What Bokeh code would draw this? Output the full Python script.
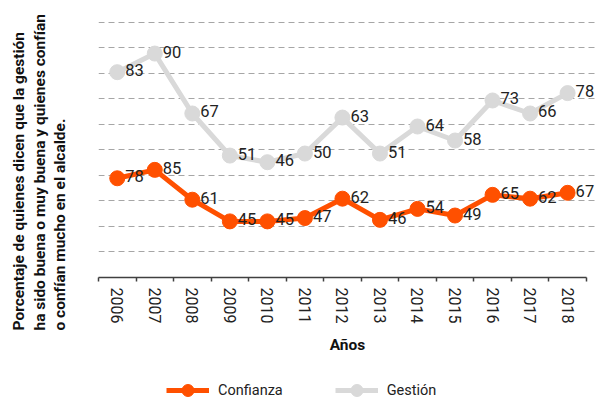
from bokeh.plotting import figure
from bokeh.models import (FixedTicker, LinearAxis, Legend, LegendItem, Title, Range1d)
from bokeh.layouts import column
from bokeh.core.properties import value
from bokeh.embed import file_html
from bokeh.resources import INLINE

FONT = "Roboto"

years = ["2006", "2007", "2008", "2009", "2010", "2011", "2012",
         "2013", "2014", "2015", "2016", "2017", "2018"]
# plotted positions and printed labels
gestion_values = [80.5, 87.8, 64.3, 47.8, 45.2, 48.6, 62.7, 48.6, 59.2, 53.7, 69.4, 64.3, 72.3]
gestion_labels = [83, 90, 67, 51, 46, 50, 63, 51, 64, 58, 73, 66, 78]
confianza_values = [38.9, 42.2, 30.5, 22.0, 22.0, 23.3, 30.9, 22.6, 26.9, 24.3, 32.4, 30.9, 33.2]
confianza_labels = [78, 85, 61, 45, 45, 47, 62, 46, 54, 49, 65, 62, 67]
grid_values = [10, 20, 30, 40, 50, 60, 70, 80, 90, 100]
series_names = ["Confianza", "Gestión"]
y_title_lines = ["Porcentaje de quienes dicen que la gestión",
                 "ha sido buena o muy buena y quienes confían",
                 "o confían mucho en el alcalde."]

ORANGE = "#ff5000"
GRAY = "#d9d9d9"

xs = [i + 0.5 for i in range(len(years))]
n = len(years)

p = figure(width=596, height=360, output_backend="svg", toolbar_location=None,
           x_range=Range1d(0, 13.27), y_range=Range1d(0, 108.6),
           x_axis_location=None, y_axis_location=None,
           min_border_left=98, min_border_right=0, min_border_top=0,
           min_border_bottom=83)
p.title.visible = False
p.outline_line_color = None
p.background_fill_color = None
p.border_fill_color = "white"

# grid
p.xgrid.visible = False
p.ygrid.ticker = FixedTicker(ticks=grid_values)
p.ygrid.grid_line_color = "#a6a6a6"
p.ygrid.grid_line_dash = "6 4"
p.ygrid.grid_line_width = 1
p.ygrid.bounds = (0, n)

# x axis
xaxis = LinearAxis(ticker=FixedTicker(ticks=xs, minor_ticks=list(range(n + 1))),
                   major_label_overrides={x: y for x, y in zip(xs, years)})
xaxis.bounds = (0, n)
xaxis.axis_line_color = "#404040"
xaxis.axis_line_width = 1.5
xaxis.major_tick_line_color = None
xaxis.major_tick_out = 4
xaxis.major_tick_in = 0
xaxis.minor_tick_line_color = "#404040"
xaxis.minor_tick_line_width = 1.5
xaxis.minor_tick_out = 4
xaxis.minor_tick_in = 0
xaxis.major_label_orientation = "vertical"
xaxis.major_label_standoff = 6
xaxis.major_label_text_font = FONT
xaxis.major_label_text_font_size = "16px"
xaxis.major_label_text_color = "#222222"
xaxis.axis_label = "Años"
xaxis.axis_label_text_font = FONT
xaxis.axis_label_text_font_style = "bold"
xaxis.axis_label_text_font_size = "15.5px"
xaxis.axis_label_text_color = "#111111"
xaxis.axis_label_standoff = 10
p.add_layout(xaxis, "below")

# series
p.line(xs, confianza_values, line_color=ORANGE, line_width=5)
p.scatter(xs, confianza_values, size=15, fill_color=ORANGE, line_color=ORANGE)
p.line(xs, gestion_values, line_color=GRAY, line_width=5)
p.scatter(xs, gestion_values, size=15, fill_color=GRAY, line_color=GRAY)

p.text(xs, confianza_values, text=[str(v) for v in confianza_labels],
       x_offset=8, y_offset=-2, text_baseline="middle", text_align="left",
       text_font=value(FONT), text_font_size="16.5px", text_color="#222222")
p.text(xs, gestion_values, text=[str(v) for v in gestion_labels],
       x_offset=8, y_offset=-2, text_baseline="middle", text_align="left",
       text_font=value(FONT), text_font_size="16.5px", text_color="#222222")

# y title: spacer next to the frame, then the three-line title
spacer = Title(text=" ", text_font_size="1px", standoff=26)
p.add_layout(spacer, "left")
ytitle = Title(text="\n".join(y_title_lines), align="left", vertical_align="bottom",
               offset=-53, standoff=0, text_line_height=1.15,
               text_font=FONT, text_font_style="bold", text_font_size="15.5px",
               text_color="#111111")
p.add_layout(ytitle, "left")

# legend in its own strip below the chart (series drawn out of view, only the key shows)
lg = figure(width=596, height=41, output_backend="svg", toolbar_location=None,
            x_range=Range1d(-100, -99), y_range=Range1d(0, 1),
            x_axis_location=None, y_axis_location=None,
            min_border_left=0, min_border_right=0, min_border_top=0, min_border_bottom=0)
lg.title.visible = False
lg.outline_line_color = None
lg.xgrid.visible = False
lg.ygrid.visible = False
lr1 = lg.line(xs, confianza_values, line_color=ORANGE, line_width=5)
ls1 = lg.scatter(xs, confianza_values, size=15, fill_color=ORANGE, line_color=ORANGE)
lr2 = lg.line(xs, gestion_values, line_color=GRAY, line_width=5)
ls2 = lg.scatter(xs, gestion_values, size=15, fill_color=GRAY, line_color=GRAY)
legend = Legend(items=[LegendItem(label=series_names[0], renderers=[lr1, ls1]),
                       LegendItem(label=series_names[1], renderers=[lr2, ls2])],
                orientation="horizontal", location=(68, -4),
                glyph_width=43, glyph_height=30, label_standoff=9, spacing=52,
                padding=0, margin=0,
                label_text_font=FONT, label_text_font_size="14.5px",
                label_text_color="#222222",
                border_line_color=None, background_fill_color=None)
lg.add_layout(legend, "center")

open("out.html", "w").write(file_html(column(p, lg, spacing=0), INLINE))
